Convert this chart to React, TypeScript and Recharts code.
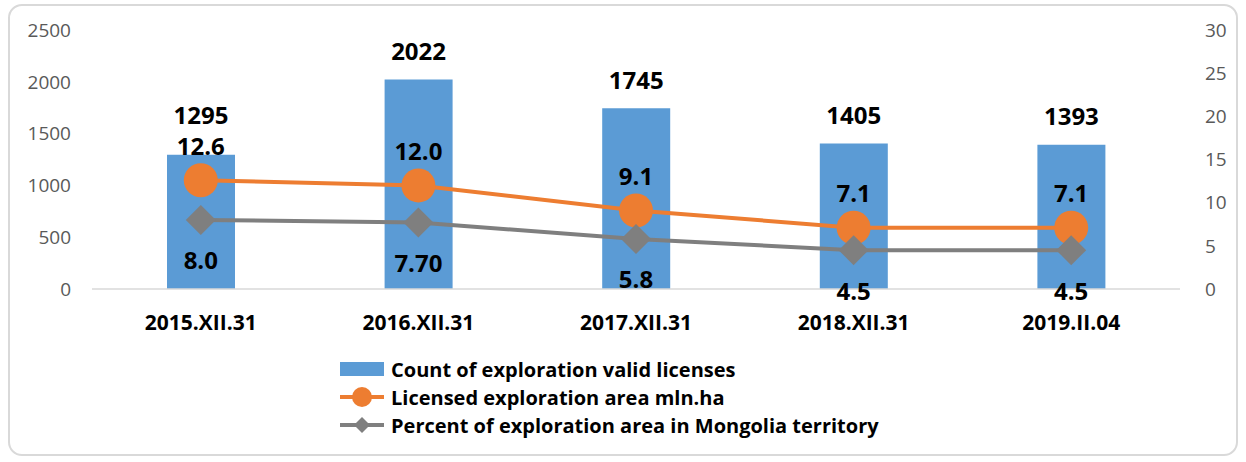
import {
  ComposedChart, Bar, Line, XAxis, YAxis, Legend, LabelList,
} from 'recharts';

const dates = ['2015.XII.31', '2016.XII.31', '2017.XII.31', '2018.XII.31', '2019.II.04'];
const licenseCount = [1295, 2022, 1745, 1405, 1393];
const areaMlnHa = [12.6, 12.0, 9.1, 7.1, 7.1];
const areaPercent = [8.0, 7.7, 5.8, 4.5, 4.5];
const percentLabels = ['8.0', '7.70', '5.8', '4.5', '4.5'];
const leftTicks = [0, 500, 1000, 1500, 2000, 2500];
const rightTicks = [0, 5, 10, 15, 20, 25, 30];

const BLUE = '#5B9BD5';
const ORANGE = '#ED7D31';
const GRAY = '#7F7F7F';
const FONT = '"Open Sans", Lato, sans-serif';

const rows = dates.map((d, i) => ({
  date: d,
  count: licenseCount[i],
  area: areaMlnHa[i],
  pct: areaPercent[i],
  pctLabel: percentLabels[i],
}));

function BarValue(props: any) {
  const { x, y, width, value, index } = props;
  // first label was nudged up in the original so it clears the 12.6 label
  const lift = index === 0 ? 40 : 29;
  return (
    <text x={x + width / 2} y={y - lift} textAnchor="middle" dominantBaseline="central"
      fontFamily={FONT} fontWeight={700} fontSize={24} fill="#000">
      {value}
    </text>
  );
}

function AreaValue(props: any) {
  const { x, y, value } = props;
  return (
    <text x={x} y={y - 35} textAnchor="middle" dominantBaseline="central"
      fontFamily={FONT} fontWeight={700} fontSize={24} fill="#000">
      {Number(value).toFixed(1)}
    </text>
  );
}

function PctValue(props: any) {
  const { x, y, index } = props;
  return (
    <text x={x} y={y + 40} textAnchor="middle" dominantBaseline="central"
      fontFamily={FONT} fontWeight={700} fontSize={24} fill="#000">
      {percentLabels[index]}
    </text>
  );
}

function Diamond(props: any) {
  const { cx, cy } = props;
  if (cx == null || cy == null) return null;
  const r = 15;
  return <path d={`M ${cx} ${cy - r} L ${cx + r} ${cy} L ${cx} ${cy + r} L ${cx - r} ${cy} Z`} fill={GRAY} />;
}

function LegendBox() {
  const item = { display: 'flex', alignItems: 'center', height: 28 } as const;
  const label = { marginLeft: 7, fontFamily: FONT, fontWeight: 700, fontSize: 20, color: '#000', whiteSpace: 'nowrap' } as const;
  return (
    <div>
      <div style={item}>
        <svg width={44} height={20}><rect x={0} y={3} width={44} height={14} fill={BLUE} /></svg>
        <span style={label}>Count of exploration valid licenses</span>
      </div>
      <div style={item}>
        <svg width={44} height={24}>
          <line x1={0} y1={12} x2={44} y2={12} stroke={ORANGE} strokeWidth={4} />
          <circle cx={22} cy={12} r={10} fill={ORANGE} />
        </svg>
        <span style={label}>Licensed exploration area mln.ha</span>
      </div>
      <div style={item}>
        <svg width={44} height={24}>
          <line x1={0} y1={12} x2={44} y2={12} stroke={GRAY} strokeWidth={4} />
          <path d="M 22 4 L 30 12 L 22 20 L 14 12 Z" fill={GRAY} />
        </svg>
        <span style={label}>Percent of exploration area in Mongolia territory</span>
      </div>
    </div>
  );
}

export default function App() {
  return (
    <div style={{ position: 'absolute', left: 0, top: 0, width: 1246, height: 462, background: '#fff' }}>
      <div style={{
        position: 'absolute', left: 8, top: 4, width: 1230, height: 452,
        border: '2px solid #d9d9d9', borderRadius: 14, boxSizing: 'border-box',
      }} />
      <ComposedChart width={1246} height={462} data={rows}
        margin={{ top: 30, right: 26, bottom: 133, left: 32 }}>
        <XAxis dataKey="date" tickLine={false} axisLine={{ stroke: '#d9d9d9', strokeWidth: 1.5 }}
          height={40} tickMargin={20} interval={0}
          tick={{ fontFamily: FONT, fontWeight: 700, fontSize: 21, fill: '#000' }} />
        <YAxis yAxisId="left" domain={[0, 2500]} ticks={leftTicks} width={60}
          axisLine={false} tickLine={false} tickMargin={15}
          tick={{ fontFamily: FONT, fontSize: 19, fill: '#595959' }} />
        <YAxis yAxisId="right" orientation="right" domain={[0, 30]} ticks={rightTicks} width={40}
          axisLine={false} tickLine={false} tickMargin={19}
          tick={{ fontFamily: FONT, fontSize: 19, fill: '#595959' }} />
        <Legend layout="vertical" verticalAlign="middle" align="center"
          wrapperStyle={{ position: 'absolute', left: 340, top: 355, width: 620 }}
          content={<LegendBox />} />
        <Bar yAxisId="left" dataKey="count" fill={BLUE} barSize={68} isAnimationActive={false}>
          <LabelList dataKey="count" content={<BarValue />} />
        </Bar>
        <Line yAxisId="right" dataKey="area" stroke={ORANGE} strokeWidth={4}
          dot={{ r: 17, fill: ORANGE, stroke: 'none' }} activeDot={false} isAnimationActive={false}>
          <LabelList dataKey="area" content={<AreaValue />} />
        </Line>
        <Line yAxisId="right" dataKey="pct" stroke={GRAY} strokeWidth={4}
          dot={<Diamond />} activeDot={false} isAnimationActive={false}>
          <LabelList dataKey="pctLabel" content={<PctValue />} />
        </Line>
      </ComposedChart>
    </div>
  );
}
